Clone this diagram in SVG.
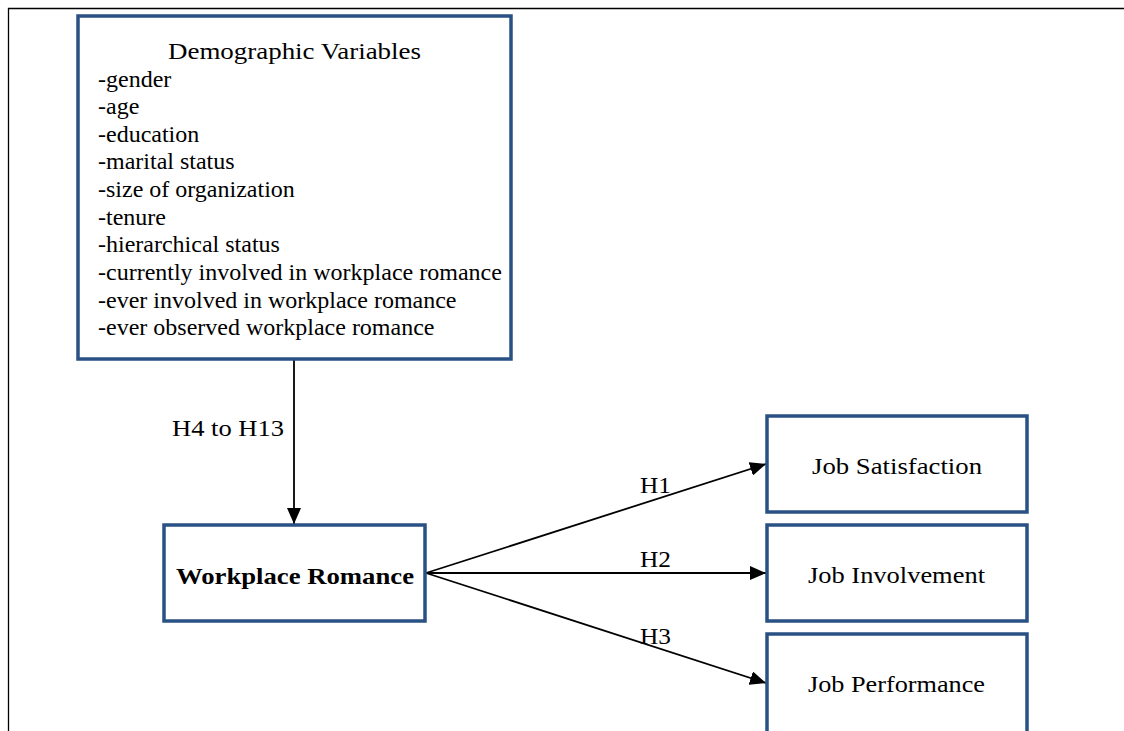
<svg xmlns="http://www.w3.org/2000/svg" width="1124" height="731" viewBox="0 0 1124 731">
<style>
.box{fill:#fff;stroke:#2a5183;stroke-width:3.5}
.t{font-family:"Liberation Serif","Times New Roman",serif;font-size:24px;fill:#000}
.c{text-anchor:middle}
.ln{stroke:#000;stroke-width:1.8;fill:none}
</style>
<defs>
<marker id="ahl" markerWidth="16" markerHeight="14" refX="16" refY="7" orient="auto" markerUnits="userSpaceOnUse" viewBox="0 0 16 14">
<path d="M0,0 L16,7 L0,14 Z" fill="#000"/>
</marker>
</defs>
<rect width="1124" height="731" fill="#fff"/>
<path d="M8.5,731 V8.5 H1124" fill="none" stroke="#000" stroke-width="1.3"/>
<g id="connectors">
<line class="ln" x1="294" y1="360" x2="294" y2="524" marker-end="url(#ahl)"/>
<line class="ln" x1="426" y1="573" x2="766" y2="464" marker-end="url(#ahl)"/>
<line class="ln" x1="426" y1="573" x2="766" y2="573" marker-end="url(#ahl)"/>
<line class="ln" x1="426" y1="573" x2="766" y2="683" marker-end="url(#ahl)"/>
<text class="t" x="172" y="436" font-size="27" textLength="112" lengthAdjust="spacingAndGlyphs">H4 to H13</text>
<text class="t" x="640" y="492.5" font-size="25" textLength="31" lengthAdjust="spacingAndGlyphs">H1</text>
<text class="t" x="640" y="567" font-size="25" textLength="31" lengthAdjust="spacingAndGlyphs">H2</text>
<text class="t" x="640" y="644" font-size="25" textLength="31" lengthAdjust="spacingAndGlyphs">H3</text>
</g>
<g id="demographic">
<rect class="box" x="78" y="16" width="433" height="343"/>
<text class="t" x="168" y="59" font-size="26" textLength="253" lengthAdjust="spacingAndGlyphs">Demographic Variables</text>
<text class="t" x="98" y="86.5">-gender</text>
<text class="t" x="98" y="114">-age</text>
<text class="t" x="98" y="141.5">-education</text>
<text class="t" x="98" y="169">-marital status</text>
<text class="t" x="98" y="197">-size of organization</text>
<text class="t" x="98" y="224.5">-tenure</text>
<text class="t" x="98" y="252">-hierarchical status</text>
<text class="t" x="98" y="280">-currently involved in workplace romance</text>
<text class="t" x="98" y="307.5">-ever involved in workplace romance</text>
<text class="t" x="98" y="335">-ever observed workplace romance</text>
</g>
<g id="workplace-romance">
<rect class="box" x="164" y="525" width="261" height="96"/>
<text class="t" x="176" y="583.5" font-weight="bold" font-size="26" textLength="238" lengthAdjust="spacingAndGlyphs">Workplace Romance</text>
</g>
<g id="job-satisfaction">
<rect class="box" x="767" y="416" width="260" height="96"/>
<text class="t" x="812" y="473.5" font-size="27" textLength="170" lengthAdjust="spacingAndGlyphs">Job Satisfaction</text>
</g>
<g id="job-involvement">
<rect class="box" x="767" y="525" width="260" height="96"/>
<text class="t" x="808" y="582.5" font-size="27" textLength="177" lengthAdjust="spacingAndGlyphs">Job Involvement</text>
</g>
<g id="job-performance">
<rect class="box" x="767" y="634" width="260" height="100"/>
<text class="t" x="808" y="691.5" font-size="27" textLength="177" lengthAdjust="spacingAndGlyphs">Job Performance</text>
</g>
</svg>
